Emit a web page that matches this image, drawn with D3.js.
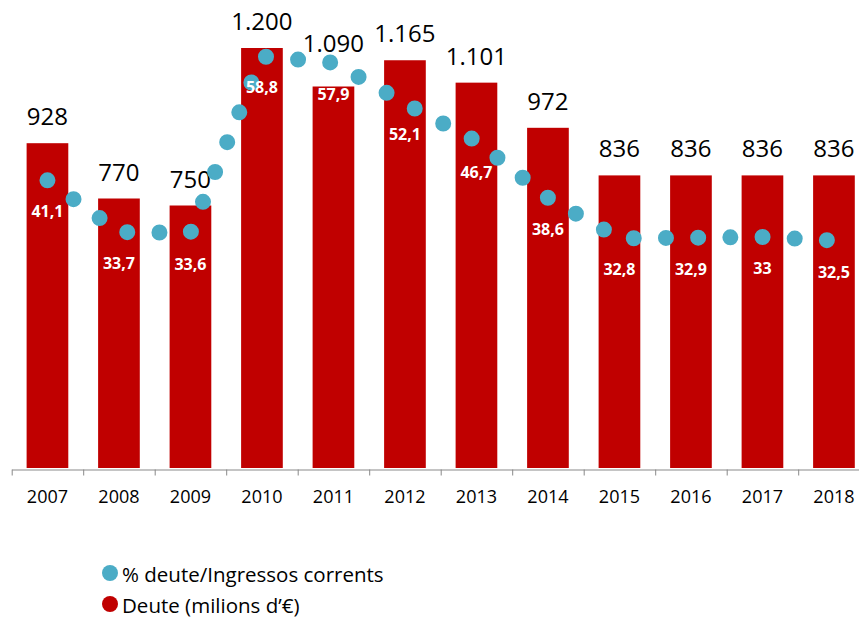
<!DOCTYPE html>
<html lang="ca">
<head>
<meta charset="UTF-8">
<title>Deute</title>
<script src="https://d3js.org/d3.v7.min.js"></script>
<style>
  body { margin: 0; background: #fff; }
  text { font-family: "Open Sans", sans-serif; }
</style>
</head>
<body>
<script>
const years = ["2007","2008","2009","2010","2011","2012","2013","2014","2015","2016","2017","2018"];
const debt = [928, 770, 750, 1200, 1090, 1165, 1101, 972, 836, 836, 836, 836];
const pct = [41.1, 33.7, 33.6, 58.8, 57.9, 52.1, 46.7, 38.6, 32.8, 32.9, 33, 32.5];
const legendLabels = ["% deute/Ingressos corrents", "Deute (milions d\u2019\u20ac)"];

const width = 859, height = 619;
const base = 469;
const left = 11.7, step = 71.5;

const locale = d3.formatLocale({decimal: ",", thousands: ".", grouping: [3], currency: ["", "\u20ac"]});
const fmt = locale.format(",");

const x = d3.scaleBand()
    .domain(years)
    .range([left, left + step * years.length])
    .paddingInner(0.417)
    .paddingOuter(0.2085);

const y = d3.scaleLinear().domain([0, 1200]).range([base - 1, 48]);
const yPct = d3.scaleLinear().domain([0, 60]).range([base - 1, 48]);

const svg = d3.select("body").append("svg")
    .attr("width", width)
    .attr("height", height);

// bars
svg.selectAll("rect.bar").data(years).enter().append("rect")
    .attr("class", "bar")
    .attr("x", d => x(d))
    .attr("width", x.bandwidth())
    .attr("y", (d, i) => y(debt[i]))
    .attr("height", (d, i) => y(0) - y(debt[i]))
    .attr("fill", "#C00000");

// bar labels (lifted above the dotted line where they would collide)
svg.selectAll("text.val").data(years).enter().append("text")
    .attr("class", "val")
    .attr("x", d => x(d) + x.bandwidth() / 2)
    .attr("y", (d, i) => Math.min(y(debt[i]) - 18, yPct(pct[i]) - 11))
    .attr("text-anchor", "middle")
    .style("font-size", "24px")
    .attr("fill", "#000")
    .text((d, i) => fmt(debt[i]));

// axis: boundary ticks
const xb = d3.scaleLinear().domain([0, years.length]).range(x.range());
svg.append("g")
    .attr("transform", `translate(0,${base + 0.5})`)
    .call(d3.axisBottom(xb).tickValues(d3.range(years.length + 1)).tickFormat("").tickSize(6).tickSizeOuter(0))
    .call(g => g.selectAll("path,line").attr("stroke", "#898989"));

// axis: year labels
svg.append("g")
    .attr("transform", `translate(0,${base})`)
    .call(d3.axisBottom(x).tickSize(0).tickPadding(21))
    .call(g => g.select(".domain").remove())
    .call(g => g.selectAll("text")
        .style("font-family", "'Open Sans', sans-serif")
        .style("font-size", "18px")
        .attr("fill", "#000"));

// dotted percentage line
const line = d3.line()
    .x((d, i) => x(years[i]) + x.bandwidth() / 2)
    .y(d => yPct(d));

svg.append("path")
    .datum(pct)
    .attr("d", line)
    .attr("fill", "none")
    .attr("stroke", "#4BACC6")
    .attr("stroke-width", 16)
    .attr("stroke-linecap", "round")
    .attr("stroke-dasharray", "0 32.2");

// percentage labels
svg.selectAll("text.pct").data(pct).enter().append("text")
    .attr("class", "pct")
    .attr("x", (d, i) => x(years[i]) + x.bandwidth() / 2)
    .attr("y", d => yPct(d) + 37)
    .attr("text-anchor", "middle")
    .style("font-size", "16px")
    .style("font-weight", "bold")
    .attr("fill", "#fff")
    .text(d => fmt(d));

// legend
const legendColors = ["#4BACC6", "#C00000"];
const lg = svg.selectAll("g.leg").data(legendLabels).enter().append("g")
    .attr("class", "leg")
    .attr("transform", (d, i) => `translate(110,${573 + i * 31})`);
lg.append("circle").attr("r", 8).attr("fill", (d, i) => legendColors[i]);
lg.append("text")
    .attr("x", 12)
    .attr("y", 9)
    .style("font-size", "20.5px")
    .attr("fill", "#000")
    .text(d => d);
</script>
</body>
</html>
